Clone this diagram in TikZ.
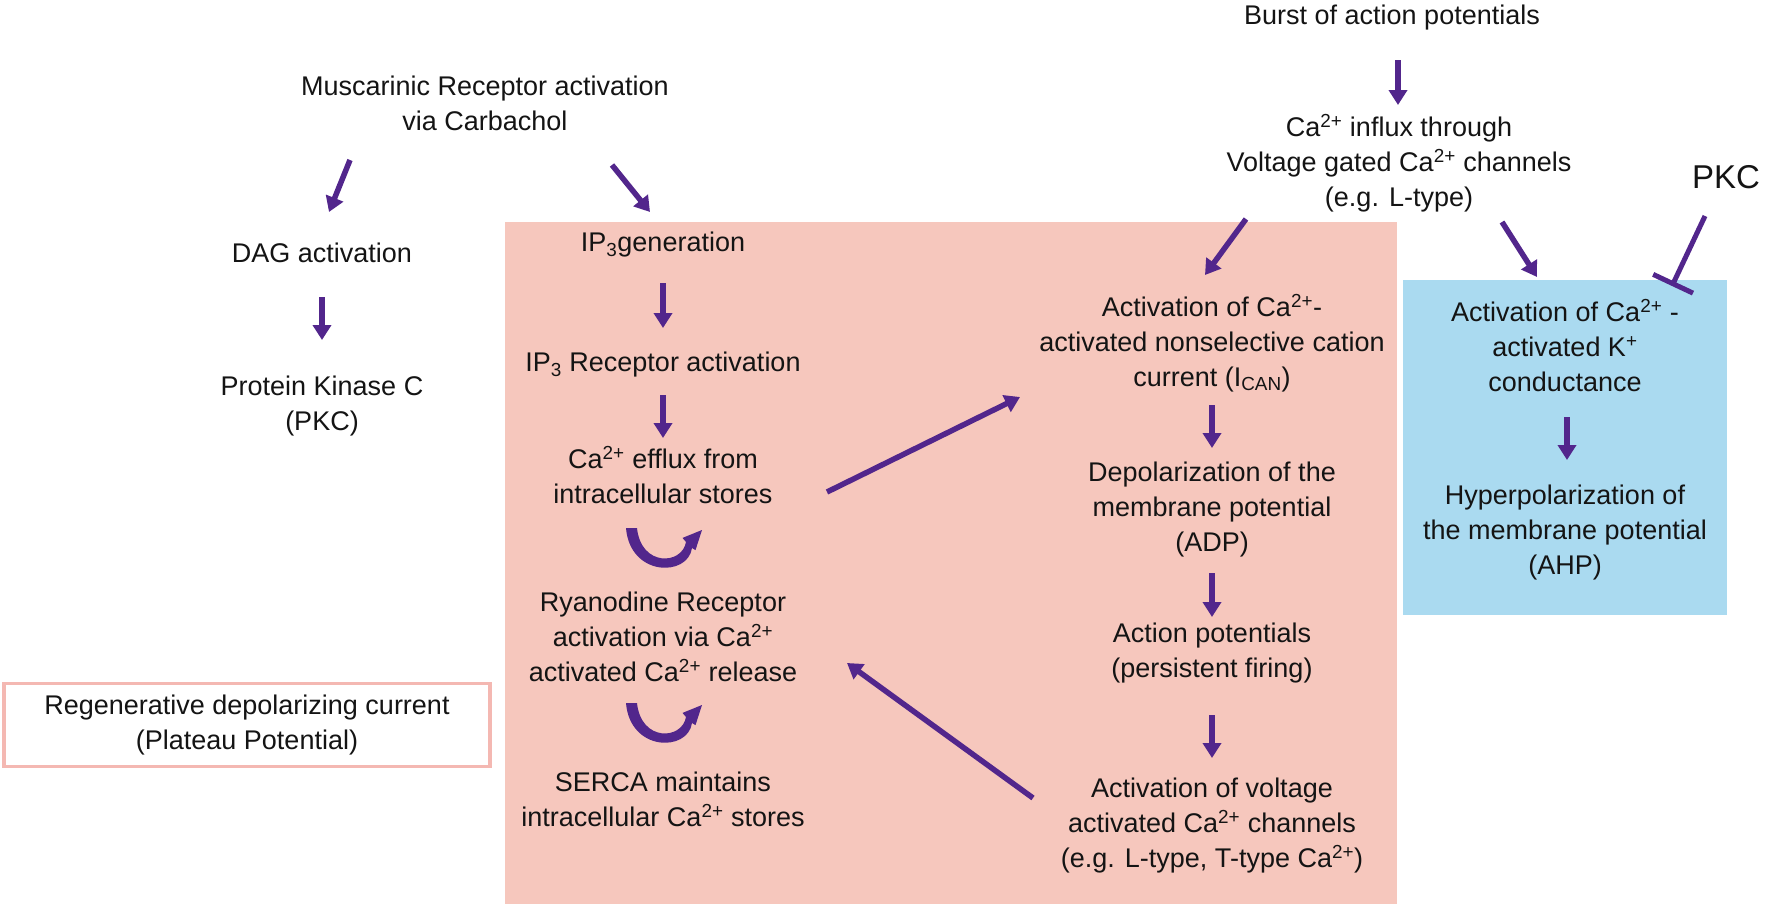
\documentclass[tikz,border=0pt]{standalone}
\usepackage{fontspec}
\setmainfont{Liberation Sans}
\usetikzlibrary{arrows.meta}
\definecolor{arrowc}{RGB}{82,38,140}
\definecolor{pinkbg}{RGB}{246,199,189}
\definecolor{bluebg}{RGB}{170,218,240}
\definecolor{pinkline}{RGB}{244,184,178}
\definecolor{txtc}{RGB}{20,20,20}
\newcommand{\cat}{Ca\textsuperscript{2+}}
\begin{document}
\begin{tikzpicture}[x=1pt,y=-1pt,
  txt/.style={font=\fontsize{27}{35}\selectfont, align=center, inner sep=0pt, text=txtc},
  arr/.style={draw=arrowc, line width=5.5pt, -{Triangle[width=18pt,length=15pt]}},
  inh/.style={draw=arrowc, line width=5pt, -{Bar[width=44pt]}},
  loopar/.pic={\fill[arrowc] (-37,-19) .. controls (-33,30) and (25,30) .. (29,1)
      -- (32.5,3.1) -- (39,-17) -- (19.5,-9.1) -- (23,-5)
      .. controls (19,18) and (-22,20) .. (-26,-19) -- cycle;}]
\useasboundingbox (0,0) rectangle (1772,911);
\fill[white] (0,0) rectangle (1772,911);
% background panels
\fill[pinkbg] (505,222) rectangle (1397,904);
\fill[bluebg] (1403,280) rectangle (1727,615);
% nodes
\node[txt] (burst) at (1392,18) {Burst of action potentials};
\node[txt] (cainflux) at (1399,163) {\cat{} influx through\\Voltage gated \cat{} channels\\(e.g. L-type)};
\node[txt, font=\fontsize{33}{40}\selectfont] (pkc) at (1726,177) {PKC};
\node[txt] (musc) at (485,103) {Muscarinic Receptor activation\\via Carbachol};
\node[txt] (dag) at (322,253) {DAG activation};
\node[txt] (prkc) at (322,406) {Protein Kinase C\\(PKC)};
\node[txt] (ip3gen) at (663,245) {IP\textsubscript{3}generation};
\node[txt] (ip3rec) at (663,365) {IP\textsubscript{3} Receptor activation};
\node[txt] (efflux) at (663,475) {\cat{} efflux from\\intracellular stores};
\node[txt] (ryr) at (663,637) {Ryanodine Receptor\\activation via \cat{}\\activated \cat{} release};
\node[txt] (serca) at (663,799) {SERCA maintains\\intracellular \cat{} stores};
\node[txt] (ican) at (1212,343) {Activation of \cat{}-\\activated nonselective cation\\current (I\textsubscript{CAN})};
\node[txt] (depol) at (1212,510) {Depolarization of the\\membrane potential\\(ADP)};
\node[txt] (ap) at (1212,653) {Action potentials\\(persistent firing)};
\node[txt] (vgcc) at (1212,826) {Activation of voltage\\activated \cat{} channels\\(e.g. L-type, T-type \cat{})};
\node[txt] (kca) at (1565,346) {Activation of \cat{} -\\activated K\textsuperscript{+}\\conductance};
\node[txt] (ahp) at (1565,533) {Hyperpolarization of\\the membrane potential\\(AHP)};
\node[txt, draw=pinkline, line width=3.5pt, fill=white, minimum width=486pt, minimum height=83pt] (plateau) at (247,725) {Regenerative depolarizing current\\(Plateau Potential)};
% connectors
\draw[arr] ([shift={(6,42)}]burst.center) -- ([shift={(-1,-58)}]cainflux.center);
\draw[arr] ([shift={(-135,57)}]musc.center) -- ([shift={(7,-41)}]dag.center);
\draw[arr] ([shift={(127,62)}]musc.center) -- ([shift={(-13,-33)}]ip3gen.center);
\draw[arr] ([shift={(0,44)}]dag.center) -- ([shift={(0,-66)}]prkc.center);
\draw[arr] ([shift={(0,38)}]ip3gen.center) -- ([shift={(0,-37)}]ip3rec.center);
\draw[arr] ([shift={(0,30)}]ip3rec.center) -- ([shift={(0,-37)}]efflux.center);
\draw[arr] ([shift={(164,17)}]efflux.center) -- ([shift={(-192,54)}]ican.center);
\draw[arr] ([shift={(-153,56)}]cainflux.center) -- ([shift={(-7,-68)}]ican.center);
\draw[arr] ([shift={(103,59)}]cainflux.center) -- ([shift={(-28,-69)}]kca.center);
\draw[inh] ([shift={(-21,39)}]pkc.center) -- ([shift={(107,-60)}]kca.center);
\draw[arr] ([shift={(0,62)}]ican.center) -- ([shift={(0,-62)}]depol.center);
\draw[arr] ([shift={(0,63)}]depol.center) -- ([shift={(0,-36)}]ap.center);
\draw[arr] ([shift={(0,62)}]ap.center) -- ([shift={(0,-68)}]vgcc.center);
\draw[arr] ([shift={(-179,-28)}]vgcc.center) -- ([shift={(184,26)}]ryr.center);
\draw[arr] ([shift={(2,71)}]kca.center) -- ([shift={(2,-73)}]ahp.center);
% loop arrows
\pic at (663,547) {loopar};
\pic at (663,722) {loopar};
\end{tikzpicture}
\end{document}
